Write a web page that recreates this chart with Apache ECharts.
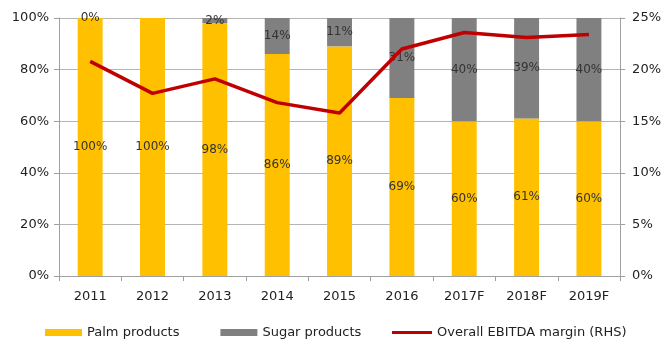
<!DOCTYPE html>
<html>
<head>
<meta charset="utf-8">
<script src="https://cdn.jsdelivr.net/npm/echarts@6/dist/echarts.min.js"></script>
<style>
  html, body { margin: 0; padding: 0; background: #fff; }
  #main { width: 664px; height: 345px; }
</style>
</head>
<body>
<div id="main"></div>
<script>
// categories and values
const years = ['2011', '2012', '2013', '2014', '2015', '2016', '2017F', '2018F', '2019F'];
const palm = [100, 100, 98, 86, 89, 69, 60, 61, 60];
const sugar = [0, null, 2, 14, 11, 31, 40, 39, 40]; // 2012 has no label
const ebitdaMargin = [20.8, 17.7, 19.1, 16.8, 15.8, 22.0, 23.6, 23.1, 23.4];

const font = 'DejaVu Sans';
const axisColor = '#a0a0a0';

const chart = echarts.init(document.getElementById('main'));

const barLabel = {
  show: true,
  position: 'inside',
  color: '#333',
  fontFamily: font,
  fontSize: 12,
  formatter: p => p.value + '%'
};

const legendText = { fontFamily: font, fontSize: 13, color: '#222' };

chart.setOption({
  animation: false,
  textStyle: { fontFamily: font },
  grid: { left: 59, right: 42, top: 18, bottom: 69 },
  legend: [
    {
      top: 326,
      left: 45,
      itemWidth: 37,
      itemHeight: 7,
      itemGap: 41,
      icon: 'rect',
      padding: 0,
      textStyle: legendText,
      data: ['Palm products', 'Sugar products']
    },
    {
      top: 326,
      left: 392,
      itemWidth: 40,
      itemHeight: 3,
      icon: 'rect',
      padding: 0,
      textStyle: legendText,
      data: ['Overall EBITDA margin (RHS)']
    }
  ],
  xAxis: {
    type: 'category',
    data: years,
    axisLine: { lineStyle: { color: axisColor } },
    axisTick: { show: true, alignWithLabel: false, length: 5, lineStyle: { color: axisColor } },
    axisLabel: { color: '#222', fontSize: 13, margin: 14, fontFamily: font }
  },
  yAxis: [
    {
      type: 'value',
      min: 0, max: 100, interval: 20,
      axisLine: { show: true, lineStyle: { color: axisColor } },
      axisTick: { show: true, length: 5, lineStyle: { color: axisColor } },
      splitLine: { lineStyle: { color: '#b4b4b4' } },
      axisLabel: { formatter: '{value}%', color: '#222', fontSize: 13, margin: 10, fontFamily: font }
    },
    {
      type: 'value',
      min: 0, max: 25, interval: 5,
      axisLine: { show: true, lineStyle: { color: axisColor } },
      axisTick: { show: true, length: 5, lineStyle: { color: axisColor } },
      splitLine: { show: false },
      axisLabel: { formatter: '{value}%', color: '#222', fontSize: 13, margin: 12, fontFamily: font }
    }
  ],
  series: [
    {
      name: 'Palm products',
      type: 'bar',
      stack: 'mix',
      barWidth: '40%',
      itemStyle: { color: '#FFC000' },
      label: barLabel,
      data: palm
    },
    {
      name: 'Sugar products',
      type: 'bar',
      stack: 'mix',
      barWidth: '40%',
      itemStyle: { color: '#808080' },
      label: barLabel,
      data: sugar
    },
    {
      name: 'Overall EBITDA margin (RHS)',
      type: 'line',
      yAxisIndex: 1,
      symbol: 'none',
      lineStyle: { color: '#C00000', width: 3.5 },
      itemStyle: { color: '#C00000' },
      data: ebitdaMargin
    }
  ]
});
</script>
</body>
</html>
